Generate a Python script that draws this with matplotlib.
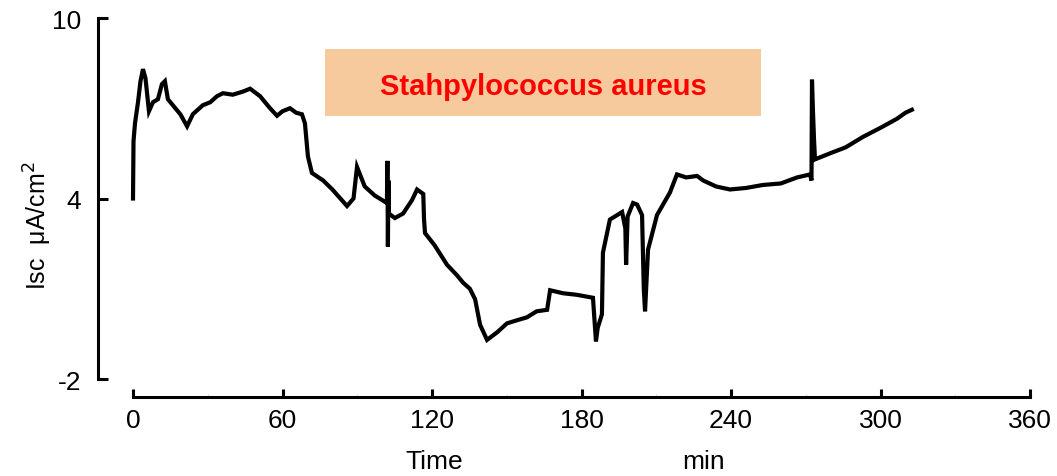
import matplotlib.pyplot as plt
from matplotlib.patches import Rectangle
from matplotlib.ticker import MultipleLocator

plt.rcParams['font.family'] = ['Liberation Sans', 'DejaVu Sans']
plt.rcParams['axes.unicode_minus'] = False

# Isc trace (time in min, Isc in uA/cm2)
time_min = [0.0, 0.2, 0.8, 2.0, 3.0, 4.0, 5.0, 6.4, 8.0, 10.0, 11.6, 12.8,
            14.0, 16.0, 19.0, 21.7, 24.0, 28.0, 31.0, 33.7, 36.1, 40.0, 44.0,
            47.0, 51.0, 55.0, 57.8, 60.0, 63.0, 65.5, 67.8, 69.0, 70.2, 71.8,
            76.3, 80.0, 85.9, 88.5, 89.9, 93.0, 97.0, 101.9, 102.1, 102.3,
            102.5, 102.7, 105.1, 108.4, 112.0, 114.0, 116.5, 116.8, 117.2,
            121.0, 126.0, 130.0, 132.5, 135.2, 137.3, 139.3, 142.1, 146.1,
            150.1, 154.0, 158.1, 162.0, 166.2, 167.4, 172.6, 178.0, 184.6,
            185.8, 186.5, 188.2, 188.6, 191.4, 196.3, 197.6, 197.9, 198.5,
            200.7, 202.3, 204.3, 205.0, 205.5, 206.7, 210.3, 215.5, 218.3,
            222.0, 226.4, 228.8, 234.0, 239.6, 246.0, 252.8, 260.0, 266.5,
            271.7, 272.3, 272.5, 272.9, 273.3, 273.7, 279.7, 286.0, 293.0,
            300.0, 306.6, 310.0, 312.6]
isc = [4.0, 5.9, 6.5, 7.2, 7.9, 8.3, 8.0, 6.9, 7.2, 7.3, 7.8, 7.9,
       7.3, 7.1, 6.8, 6.4, 6.8, 7.1, 7.2, 7.4, 7.5, 7.45, 7.55,
       7.65, 7.4, 7.0, 6.75, 6.9, 7.0, 6.85, 6.8, 6.5, 5.4, 4.85,
       4.6, 4.3, 3.75, 4.0, 5.05, 4.4, 4.1, 3.85, 5.25, 2.4,
       4.6, 3.5, 3.35, 3.5, 3.95, 4.3, 4.15, 3.3, 2.85,
       2.45, 1.8, 1.45, 1.2, 1.0, 0.65, -0.2, -0.7, -0.45,
       -0.15, -0.05, 0.05, 0.25, 0.3, 0.95, 0.85, 0.8, 0.7,
       -0.75, -0.3, 0.15, 2.2, 3.3, 3.55, 3.0, 1.8, 3.4,
       3.85, 3.8, 3.45, 1.0, 0.25, 2.3, 3.45, 4.2, 4.8,
       4.7, 4.75, 4.6, 4.4, 4.3, 4.35, 4.45, 4.5, 4.7,
       4.8, 4.6, 7.95, 6.9, 6.0, 5.3, 5.5, 5.7, 6.05,
       6.35, 6.65, 6.85, 6.95]

x_ticks = [0, 60, 120, 180, 240, 300, 360]
y_ticks = [-2, 4, 10]
species = "Stahpylococcus aureus"

fig = plt.figure(figsize=(10.57, 4.77), dpi=100)
ax = fig.add_axes([98 / 1057, 1 - 380 / 477, (1030 - 98) / 1057, 361 / 477])

ax.plot(time_min, isc, color='black', lw=3.0, solid_joinstyle='miter')

ax.set_xlim(-14.05, 360)
ax.set_ylim(-2, 10)

for s in ['top', 'right']:
    ax.spines[s].set_visible(False)
ax.spines['left'].set_linewidth(2.2)
ax.spines['bottom'].set_linewidth(2.2)
ax.spines['bottom'].set_bounds(0, 360)
ax.spines['bottom'].set_position(('outward', 13))

ax.set_xticks(x_ticks)
ax.xaxis.set_minor_locator(MultipleLocator(30))
ax.set_yticks(y_ticks)
ax.tick_params(axis='x', which='major', direction='in', length=6, width=2.2,
               labelsize=19, pad=8)
ax.tick_params(axis='x', which='minor', direction='in', length=2, width=0.5,
               color='#cccccc')
ax.tick_params(axis='y', direction='in', length=7, width=2.2, labelsize=19,
               pad=12)

fig.text(38 / 1057, 1 - 226 / 477, "Isc  μA/cm$^2$", rotation=90,
         fontsize=18, ha='center', va='center')
fig.text(434 / 1057, 1 - 462 / 477, "Time", fontsize=19, ha='center',
         va='center')
fig.text(704 / 1057, 1 - 462 / 477, "min", fontsize=19, ha='center',
         va='center')

fig.patches.append(Rectangle((325 / 1057, 1 - 117 / 477), 436 / 1057,
                             67 / 477, transform=fig.transFigure,
                             facecolor='#F6CA9C', edgecolor='none',
                             zorder=0))
fig.text(543 / 1057, 1 - 87 / 477, species, color='red', fontsize=21,
         fontweight='bold', ha='center', va='center')

plt.savefig("out.png", dpi=100)
